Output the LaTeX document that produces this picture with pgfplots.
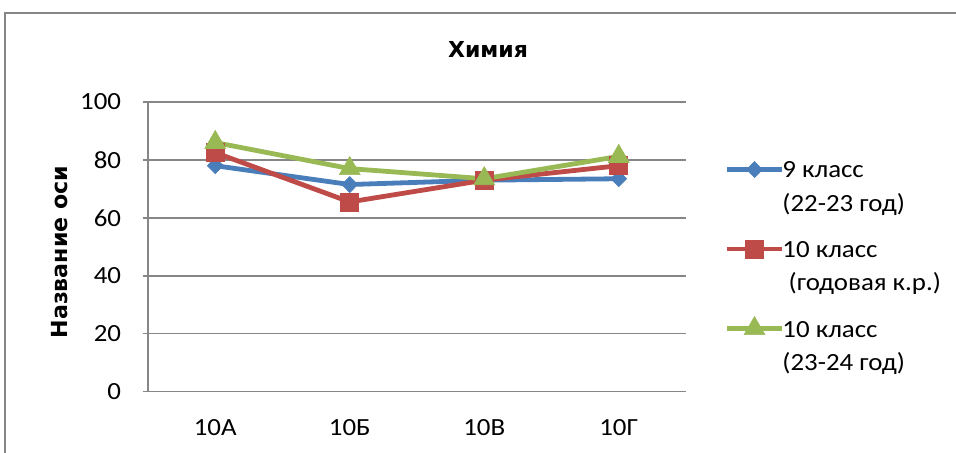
\documentclass[border=0pt]{standalone}
\usepackage{fontspec}
\setmainfont{Carlito}[FakeStretch=1.09]
\newfontfamily\boldwide{DejaVu Sans}
\usepackage{pgfplots}
\pgfplotsset{compat=1.18}
\definecolor{sblue}{RGB}{74,126,187}
\definecolor{sred}{RGB}{190,75,72}
\definecolor{sgreen}{RGB}{152,185,84}
\definecolor{gridgray}{RGB}{134,134,134}
\begin{document}
\fontsize{18.5}{25}\selectfont
\begin{tikzpicture}
\useasboundingbox (0,0) rectangle (717pt,339.75pt);
\draw[gridgray, line width=1pt] (3.75pt,-5pt) -- (3.75pt,330pt) -- (725pt,330pt);
\begin{axis}[
  at={(111pt,45.975pt)}, anchor=south west,
  width=403.5pt, height=217.3pt, scale only axis,
  xmin=-0.5, xmax=3.5, ymin=0, ymax=100,
  xtick={0,1,2,3}, xticklabels={10А,10Б,10В,10Г},
  ytick={0,20,40,60,80,100},
  axis x line*=bottom, axis y line*=left,
  ymajorgrids, grid style={gridgray, line width=1.1pt},
  axis line style={gridgray, line width=1.1pt},
  xtick style={draw=none},
  ytick style={gridgray, line width=1.1pt},
  tick align=outside, major tick length=4pt,
  /pgf/number format/assume math mode=true,
  xticklabel style={anchor=center, yshift=-23pt},
  yticklabel style={anchor=east, inner sep=0pt, xshift=-16pt},
  title={Химия},
  title style={at={(axis description cs:0.632,1)}, anchor=center, yshift=33pt,
    font=\boldwide\bfseries\fontsize{16.5}{19}\selectfont},
  ylabel={Название оси},
  every axis y label/.style={at={(axis description cs:-0.165,0.482)}, rotate=90, anchor=center,
    font=\boldwide\bfseries\fontsize{16.6}{20}\selectfont},
  legend style={at={(axis description cs:1.0706,0.8193)}, anchor=north west, draw=none, fill=none,
    inner sep=0pt, row sep=39.4pt, column sep=-1.75pt,
    nodes={inner sep=0pt}, cells={anchor=base west}},
  legend image code/.code={\draw[mark repeat=2, mark phase=2] plot coordinates {(0pt,6.3pt)(20.9pt,6.3pt)(41.8pt,6.3pt)};},
]
\addplot[sblue, line width=3.6pt, mark=diamond*, mark size=6pt,
  mark options={solid, line width=0.5pt, xscale=1.33, fill=sblue}]
  coordinates {(0,78) (1,71.5) (2,73) (3,73.5)};
\addlegendentry{\begin{tabular}[t]{@{}l@{}}9 класс\\(22-23 год)\end{tabular}}
\addplot[sred, line width=3.6pt, mark=square*, mark size=6.8pt,
  mark options={solid, line width=0.5pt, fill=sred}]
  coordinates {(0,82.5) (1,65.5) (2,73) (3,78)};
\addlegendentry{\begin{tabular}[t]{@{}l@{}}10 класс\\\hspace{0.25em}(годовая к.р.)\end{tabular}}
\addplot[sgreen, line width=3.6pt, mark=triangle*, mark size=9pt,
  mark options={solid, line width=0.5pt, fill=sgreen}]
  coordinates {(0,86) (1,77) (2,73.5) (3,81.2)};
\addlegendentry{\begin{tabular}[t]{@{}l@{}}10 класс\\(23-24 год)\end{tabular}}
\end{axis}
\end{tikzpicture}
\end{document}
